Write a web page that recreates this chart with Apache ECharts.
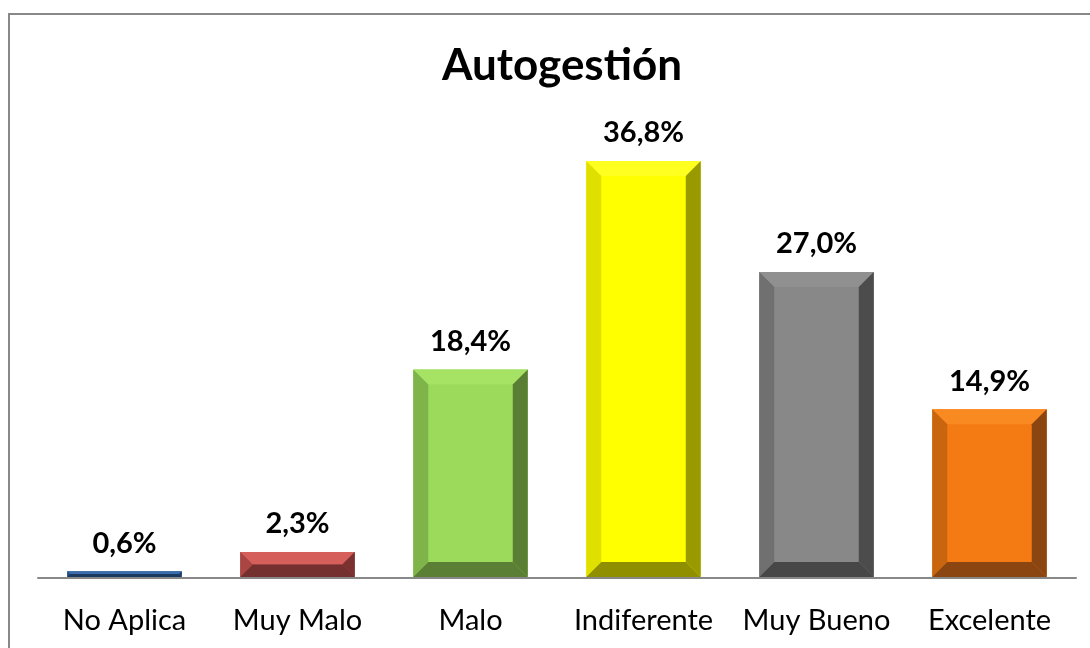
<!DOCTYPE html>
<html><head><meta charset="utf-8">
<script src="https://cdn.jsdelivr.net/npm/echarts@6/dist/echarts.min.js"></script>
<style>html,body{margin:0;padding:0;background:#fff}#c{width:1090px;height:648px}</style>
</head><body><div id="c"></div>
<script>
const categories = ['No Aplica','Muy Malo','Malo','Indiferente','Muy Bueno','Excelente'];
const values = [0.6, 2.3, 18.4, 36.8, 27.0, 14.9];
const labels = ['0,6%','2,3%','18,4%','36,8%','27,0%','14,9%'];
// [face, top, left, right, bottom]
const palettes = [
  ['#2c5a95','#3b6cab','#254e82','#1d3f6a','#1a3960'],
  ['#c0504d','#d45f5b','#a94643','#7a3130','#74302e'],
  ['#9bda5a','#a6e264','#7eb44a','#5a7e34','#5b7f35'],
  ['#ffff00','#ffff20','#dfdf00','#999900','#8f8f00'],
  ['#888888','#909090','#707070','#4c4c4c','#474747'],
  ['#f47a14','#f98a22','#c9640f','#8a4510','#8a4510']
];
const chart = echarts.init(document.getElementById('c'));
chart.setOption({
  animation:false,
  title:{text:'Autogestión',left:557,top:39,textAlign:'center',
    textStyle:{fontFamily:'Lato',fontWeight:'bold',fontSize:44,color:'#000'}},
  graphic:[{type:'rect',shape:{x:9,y:14,width:1100,height:700},
    style:{fill:'none',stroke:'#888',lineWidth:2},silent:true}],
  grid:{left:38,right:14,top:124.7,bottom:70},
  xAxis:{type:'category',data:categories,
    axisLine:{lineStyle:{color:'#888',width:2}},axisTick:{show:false},
    axisLabel:{margin:28,fontFamily:'Lato',fontSize:29,color:'#000',interval:0}},
  yAxis:{type:'value',min:0,max:40,show:false,splitLine:{show:false}},
  series:[{
    type:'custom',
    data:values.map((v,i)=>[i,v]),
    renderItem:function(params,api){
      const i=api.value(0), v=api.value(1);
      const top=api.coord([i,v]);
      const base=api.coord([i,0]);
      const bw=api.size([1,0])[0]*0.662;
      const x0=top[0]-bw/2, x1=top[0]+bw/2, y0=top[1], y1=base[1]-1;
      const h=y1-y0;
      const b=Math.min(15,h/2);
      const p=palettes[i];
      const poly=(pts,c)=>({type:'polygon',shape:{points:pts},style:{fill:c}});
      const children=[
        {type:'rect',shape:{x:x0,y:y0,width:bw,height:h},style:{fill:p[0]}},
        poly([[x0,y0],[x1,y0],[x1-b,y0+b],[x0+b,y0+b]],p[1]),
        poly([[x0,y0],[x0+b,y0+b],[x0+b,y1-b],[x0,y1]],p[2]),
        poly([[x1,y0],[x1,y1],[x1-b,y1-b],[x1-b,y0+b]],p[3]),
        poly([[x0,y1],[x0+b,y1-b],[x1-b,y1-b],[x1,y1]],p[4]),
        {type:'text',style:{text:labels[params.dataIndex],x:top[0],y:y0-28,
          align:'center',verticalAlign:'middle',fill:'#000',
          font:'bold 29px Lato'}}
      ];
      return {type:'group',children:children};
    }
  }]
});
</script></body></html>
